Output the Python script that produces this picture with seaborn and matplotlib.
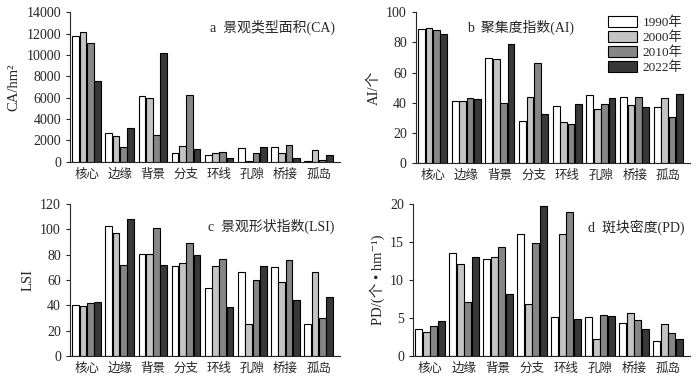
import matplotlib
matplotlib.use("Agg")
import matplotlib.pyplot as plt
import seaborn as sns
import pandas as pd
from matplotlib.patches import Patch

sns.set_style("ticks")
plt.rcParams['font.family'] = ['Liberation Serif', 'Noto Sans CJK SC', 'DejaVu Serif']
plt.rcParams['axes.unicode_minus'] = False

categories = ["核心", "边缘", "背景", "分支", "环线", "孔隙", "桥接", "孤岛"]
years = ["1990年", "2000年", "2010年", "2022年"]

ca = {
    "1990年": [11800, 2700, 6150, 850, 650, 1300, 1350, 100],
    "2000年": [12100, 2450, 5950, 1500, 800, 100, 800, 1150],
    "2010年": [11150, 1400, 2550, 6250, 950, 800, 1600, 150],
    "2022年": [7550, 3150, 10150, 1250, 350, 1350, 400, 650],
}
ai = {
    "1990年": [89, 41, 69.5, 28, 38, 45, 44, 37],
    "2000年": [89.5, 41, 69, 44, 27.5, 36, 38.5, 43],
    "2010年": [88, 43, 40, 66, 26, 39, 44, 30.5],
    "2022年": [85.5, 42.5, 79, 32.5, 39, 43, 37, 45.5],
}
lsi = {
    "1990年": [40, 102.5, 80.5, 71, 54, 66.5, 70.5, 25],
    "2000年": [39.5, 97.5, 80.5, 73.5, 71, 25.5, 58.5, 66],
    "2010年": [41.5, 72, 101, 89, 77, 60, 76, 30],
    "2022年": [43, 108, 71.5, 80, 39, 71, 44.5, 47],
}
pd_vals = {
    "1990年": [3.5, 13.5, 12.8, 16.0, 5.1, 5.2, 4.4, 2.0],
    "2000年": [3.2, 12.1, 13.0, 6.8, 16.1, 2.3, 5.7, 4.2],
    "2010年": [3.9, 7.1, 14.4, 14.9, 19.0, 5.4, 4.7, 3.1],
    "2022年": [4.6, 13.1, 8.2, 19.7, 4.9, 5.3, 3.5, 2.2],
}

colors = ["#ffffff", "#c4c4c4", "#868686", "#383838"]
palette = dict(zip(years, colors))

def to_long(d):
    rows = []
    for y in years:
        for c, v in zip(categories, d[y]):
            rows.append({"cat": c, "year": y, "val": v})
    return pd.DataFrame(rows)

fig = plt.figure(figsize=(7, 3.8), dpi=100)
positions = [
    [0.100, 0.574, 0.386, 0.394],
    [0.594, 0.571, 0.392, 0.397],
    [0.100, 0.063, 0.386, 0.400],
    [0.590, 0.063, 0.396, 0.400],
]
panels = [
    (ca, "CA/hm²", (0, 14000), [0, 2000, 4000, 6000, 8000, 10000, 12000, 14000], "a  景观类型面积(CA)", (0.98, 0.95), "right"),
    (ai, "AI/个", (0, 100), [0, 20, 40, 60, 80, 100], "b  聚集度指数(AI)", (0.38, 0.95), "center"),
    (lsi, "LSI", (0, 120), [0, 20, 40, 60, 80, 100, 120], "c  景观形状指数(LSI)", (0.98, 0.90), "right"),
    (pd_vals, "PD/(个 • hm⁻¹)", (0, 20), [0, 5, 10, 15, 20], "d  斑块密度(PD)", (0.98, 0.90), "right"),
]

for i, (pos, (data, ylab, ylim, yt, title, tpos, ha)) in enumerate(zip(positions, panels)):
    ax = fig.add_axes(pos)
    df = to_long(data)
    sns.barplot(data=df, x="cat", y="val", hue="year", palette=palette,
                edgecolor="black", linewidth=0.8, width=0.88, gap=0.08,
                legend=False, ax=ax)
    ax.set_ylim(*ylim)
    ax.set_yticks(yt)
    ax.set_xlim(-0.5, 7.65)
    ax.set_xlabel("")
    ax.set_ylabel(ylab, fontsize=10.5)
    ax.tick_params(axis="y", labelsize=10, length=3, width=0.8, direction="out")
    ax.tick_params(axis="x", labelsize=9, length=0, pad=5)
    for s in ["top", "right"]:
        ax.spines[s].set_visible(False)
    for s in ["left", "bottom"]:
        ax.spines[s].set_linewidth(0.8)
    ax.text(tpos[0], tpos[1], title, transform=ax.transAxes, ha=ha, va="top", fontsize=10)
    if i == 1:
        handles = [Patch(facecolor=c, edgecolor="black", linewidth=0.8, label=y) for y, c in zip(years, colors)]
        ax.legend(handles=handles, loc="upper right", bbox_to_anchor=(1.0, 1.03), frameon=False,
                  fontsize=9.5, handlelength=2.2, handleheight=0.9, labelspacing=0.15,
                  handletextpad=0.4, borderaxespad=0.2)

fig.savefig("out.png", dpi=100)
